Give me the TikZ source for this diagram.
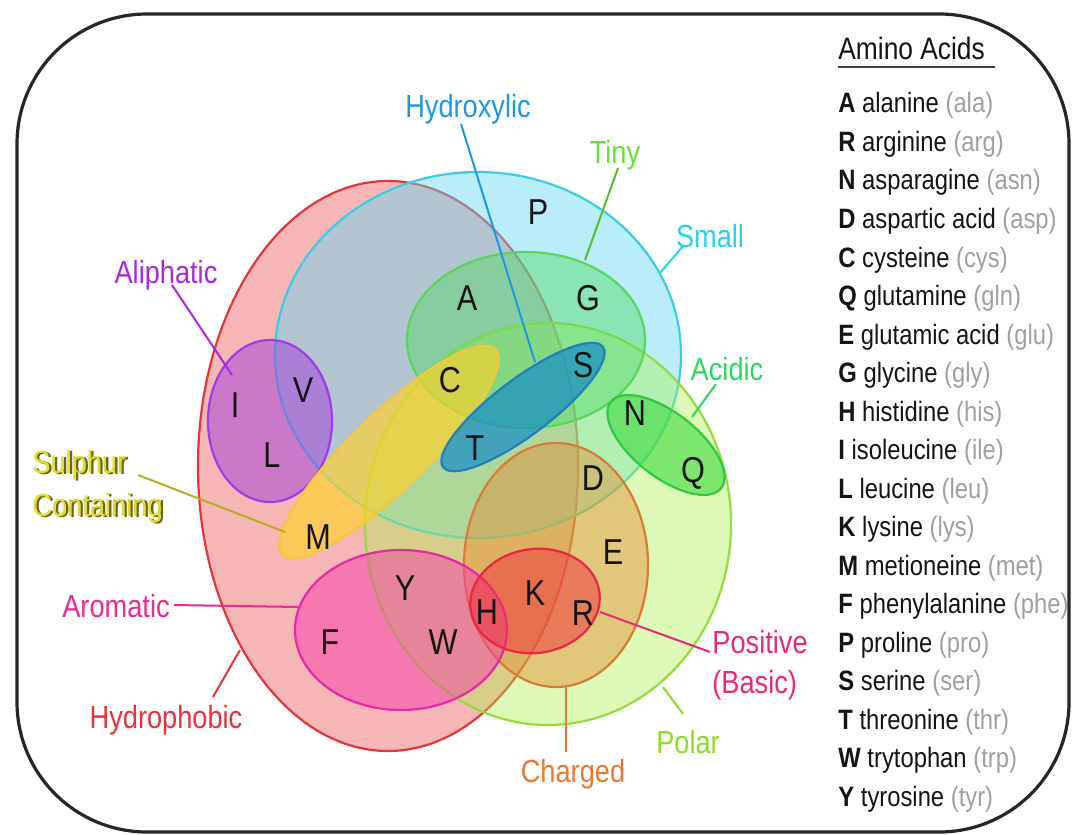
\documentclass[tikz,border=0pt]{standalone}
\usepackage{fontspec}
\setmainfont{Liberation Sans}[FakeStretch=0.85]
\usetikzlibrary{shapes.geometric}
% ellipse colours
\definecolor{phobF}{RGB}{240,110,110}\definecolor{phobD}{RGB}{225,55,60}
\definecolor{smallF}{RGB}{100,215,245}\definecolor{smallD}{RGB}{60,205,230}
\definecolor{polarF}{RGB}{170,240,70}\definecolor{polarD}{RGB}{150,220,60}
\definecolor{tinyF}{RGB}{80,220,100}\definecolor{tinyD}{RGB}{90,215,90}
\definecolor{chargF}{RGB}{230,140,50}\definecolor{chargD}{RGB}{215,125,55}
\definecolor{aliF}{RGB}{160,60,220}\definecolor{aliD}{RGB}{160,60,230}
\definecolor{sulF}{RGB}{255,210,40}\definecolor{sulD}{RGB}{245,200,60}
\definecolor{aroF}{RGB}{245,60,170}\definecolor{aroD}{RGB}{230,40,170}
\definecolor{hydF}{RGB}{20,140,200}\definecolor{hydD}{RGB}{30,130,190}
\definecolor{acidF}{RGB}{60,220,60}\definecolor{acidD}{RGB}{50,200,70}
\definecolor{posF}{RGB}{240,50,60}\definecolor{posD}{RGB}{230,40,70}
% label colours
\definecolor{cHydrox}{RGB}{30,150,230}
\definecolor{cTiny}{RGB}{100,225,50}
\definecolor{cSmall}{RGB}{40,210,230}
\definecolor{cAli}{RGB}{170,40,220}
\definecolor{cAcid}{RGB}{40,220,90}
\definecolor{cSul}{RGB}{225,220,40}
\definecolor{cSulSh}{RGB}{110,100,20}
\definecolor{cAro}{RGB}{235,40,150}
\definecolor{cPos}{RGB}{235,40,120}
\definecolor{cPhob}{RGB}{230,50,60}
\definecolor{cPolar}{RGB}{140,220,40}
\definecolor{cCharg}{RGB}{235,120,50}
\definecolor{legGray}{RGB}{160,160,160}
\definecolor{ink}{RGB}{20,20,20}
\begin{document}
\begin{tikzpicture}[x=0.5pt,y=-0.5pt,
  venn/.style={ellipse,inner sep=0pt,outer sep=0pt,line width=1.1pt},
  aa/.style={font=\fontsize{18}{20}\selectfont,text=ink,inner sep=0pt},
  lbl/.style={font=\fontsize{16}{19}\selectfont,inner sep=0pt,anchor=base},
  lead/.style={line width=1pt},
  legend/.style={font=\fontsize{14}{16}\selectfont,inner sep=0pt,anchor=base west,text=ink}]
\useasboundingbox (0,0) rectangle (1074,834);
% outer frame
\draw[line width=1.6pt,black!85,rounded corners=65pt] (17,14) rectangle (1069,832);
% sets
\node[venn,draw=phobD,fill=phobF,fill opacity=0.5,minimum width=190pt,minimum height=285pt] (hydrophobic) at (388,466) {};
\node[venn,draw=smallD,fill=smallF,fill opacity=0.45,minimum width=203pt,minimum height=183pt] (small) at (478,355) {};
\node[venn,draw=polarD,fill=polarF,fill opacity=0.4,minimum width=183pt,minimum height=201pt] (polar) at (548,524) {};
\node[venn,draw=tinyD,fill=tinyF,fill opacity=0.45,minimum width=119pt,minimum height=88pt] (tiny) at (526,340) {};
\node[venn,draw=chargD,fill=chargF,fill opacity=0.45,minimum width=92pt,minimum height=122pt] (charged) at (556,565) {};
\node[venn,draw=aliD,fill=aliF,fill opacity=0.5,minimum width=62pt,minimum height=81pt] (aliphatic) at (270,421) {};
\node[venn,draw=sulD,fill=sulF,fill opacity=0.65,minimum width=148pt,minimum height=38pt,rotate=44] (sulphur) at (389,452) {};
\node[venn,draw=aroD,fill=aroF,fill opacity=0.5,minimum width=106pt,minimum height=80pt] (aromatic) at (401,630) {};
\node[venn,draw=hydD,fill=hydF,fill opacity=0.7,minimum width=100pt,minimum height=28pt,rotate=37] (hydroxylic) at (523,407) {};
\node[venn,draw=acidD,fill=acidF,fill opacity=0.6,minimum width=70pt,minimum height=32pt,rotate=-38] (acidic) at (666,445) {};
\node[venn,draw=posD,fill=posF,fill opacity=0.5,minimum width=65pt,minimum height=52pt,rotate=8] (positive) at (535,601) {};
% amino acid letters
\node[aa] (P) at (538,212) {P};
\node[aa] (A) at (467,298) {A};
\node[aa] (G) at (588,298) {G};
\node[aa] (C) at (450,380) {C};
\node[aa] (S) at (583,365) {S};
\node[aa] (I) at (235,405) {I};
\node[aa] (V) at (303,390) {V};
\node[aa] (L) at (272,455) {L};
\node[aa] (T) at (475,448) {T};
\node[aa] (D) at (593,478) {D};
\node[aa] (N) at (635,413) {N};
\node[aa] (Q) at (693,473) {Q};
\node[aa] (M) at (318,537) {M};
\node[aa] (E) at (613,552) {E};
\node[aa] (Y) at (405,588) {Y};
\node[aa] (K) at (535,593) {K};
\node[aa] (H) at (487,612) {H};
\node[aa] (R) at (583,613) {R};
\node[aa] (F) at (330,642) {F};
\node[aa] (W) at (443,642) {W};
% set labels
\node[lbl,text=cHydrox] (hydroxLbl) at (468,118) {Hydroxylic};
\node[lbl,text=cTiny] (tinyLbl) at (615,163) {Tiny};
\node[lbl,text=cSmall] (smallLbl) at (710,247) {Small};
\node[lbl,text=cAli] (aliLbl) at (166,283) {Aliphatic};
\node[lbl,text=cAcid] (acidLbl) at (727,380) {Acidic};
\node[lbl,anchor=base west,text=cSulSh] (sulSh1) at (34.5,474.5) {Sulphur};
\node[lbl,anchor=base west,text=cSulSh] (sulSh2) at (34.5,517.5) {Containing};
\node[lbl,anchor=base west,text=cSul] (sulLbl1) at (32,473) {Sulphur};
\node[lbl,anchor=base west,text=cSul] (sulLbl2) at (32,516) {Containing};
\node[lbl,text=cAro] (aroLbl) at (116,617) {Aromatic};
\node[lbl,anchor=base west,text=cPos] (posLbl1) at (712,653) {Positive};
\node[lbl,anchor=base west,text=cPos] (posLbl2) at (712,693) {(Basic)};
\node[lbl,text=cPhob] (phobLbl) at (166,728) {Hydrophobic};
\node[lbl,text=cPolar] (polarLbl) at (688,753) {Polar};
\node[lbl,text=cCharg] (chargLbl) at (573,782) {Charged};
% leader line end points
\coordinate (hydroxA) at (461,124); \coordinate (hydroxB) at (535,362);
\coordinate (tinyA) at (618,168);   \coordinate (tinyB) at (585,260);
\coordinate (smallA) at (683,246);  \coordinate (smallB) at (660,273);
\coordinate (aliA) at (172,285);    \coordinate (aliB) at (232,375);
\coordinate (acidA) at (716,384);   \coordinate (acidB) at (692,417);
\coordinate (sulA) at (138,475);    \coordinate (sulB) at (285,532);
\coordinate (aroA) at (174,605);    \coordinate (aroB) at (298,607);
\coordinate (posA) at (710,652);    \coordinate (posB) at (600,612);
\coordinate (phobA) at (213,697);   \coordinate (phobB) at (240,650);
\coordinate (polarA) at (683,714);  \coordinate (polarB) at (663,687);
\coordinate (chargA) at (566,752);  \coordinate (chargB) at (566,687);
\draw[lead,cHydrox] (hydroxA) -- (hydroxB);
\draw[lead,cTiny!85!black] (tinyA) -- (tinyB);
\draw[lead,cSmall] (smallA) -- (smallB);
\draw[lead,cAli] (aliA) -- (aliB);
\draw[lead,cAcid] (acidA) -- (acidB);
\draw[lead,cSul!80!black] (sulA) -- (sulB);
\draw[lead,cAro] (aroA) -- (aroB);
\draw[lead,cPos] (posA) -- (posB);
\draw[lead,cPhob] (phobA) -- (phobB);
\draw[lead,cPolar] (polarA) -- (polarB);
\draw[lead,cCharg] (chargA) -- (chargB);
% legend
\node[legend,font=\fontsize{15.5}{18}\selectfont] (legTitle) at (838,60) {Amino Acids};
\draw[line width=1.4pt,black!75] (legTitle.base west) ++(0,7) -- ++(157,0);
\foreach \l/\n/\a [count=\i from 0] in {A/alanine/ala,R/arginine/arg,N/asparagine/asn,D/aspartic acid/asp,C/cysteine/cys,Q/glutamine/gln,E/glutamic acid/glu,G/glycine/gly,H/histidine/his,I/isoleucine/ile,L/leucine/leu,K/lysine/lys,M/metioneine/met,F/phenylalanine/phe,P/proline/pro,S/serine/ser,T/threonine/thr,W/trytophan/trp,Y/tyrosine/tyr}
  \node[legend] (leg\i) at (838,113+38.5*\i) {\textbf{\l} \n{} \textcolor{legGray}{(\a)}};
\end{tikzpicture}
\end{document}
